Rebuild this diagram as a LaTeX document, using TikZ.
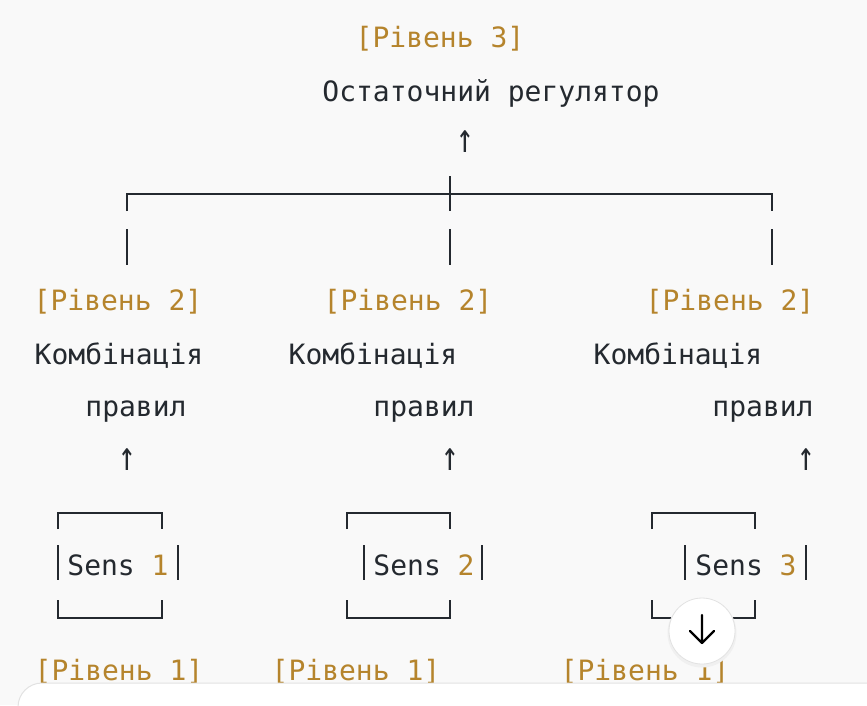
\documentclass[tikz,border=0pt]{standalone}
\usepackage{fontspec}
\usepackage{graphicx}
\newfontfamily\codefont{DejaVu Sans Mono}
\definecolor{codebg}{HTML}{F9F9F9}
\definecolor{codetext}{HTML}{24292F}
\definecolor{lvl}{HTML}{B5842C}
\definecolor{rim}{HTML}{E2E2E2}
\newcommand{\uparr}{\scalebox{1.05}[1.45]{↑}}

\begin{document}
\begin{tikzpicture}[x=1pt,y=-1pt,
    txt/.style={anchor=base, inner sep=0pt, text=codetext,
      font={\codefont\fontsize{28}{34}\selectfont}},
    lev/.style={txt, text=lvl},
    box/.style={draw=codetext, line width=1.8pt}]

      \fill[codebg] (0,0) rectangle (867,705);
      \useasboundingbox (0,0) rectangle (867,705);

      % level 3
      \begin{scope}
        \node[lev] (l3)   at (440,47)  {[Рівень 3]};
        \node[txt] (reg)  at (491,101) {Остаточний регулятор};
        \node[txt] (up3)  at (465,152) {\uparr};
      \end{scope}

      % tree
      \coordinate (ta) at (127,211);
      \coordinate (tb) at (772,194);
      \coordinate (tc) at (772,211);
      \coordinate (xa) at (450,176);
      \coordinate (xb) at (450,211);
      \draw[box] (ta) |- (tb) -- (tc);
      \draw[box] (xa) -- (xb);
      \draw[box] (127,229) -- (127,265);
      \draw[box] (450,229) -- (450,265);
      \draw[box] (772,229) -- (772,265);

      % level 2
      \begin{scope}
        \node[lev] (l2a) at (118,310) {[Рівень 2]};
        \node[lev] (l2b) at (408,310) {[Рівень 2]};
        \node[lev] (l2c) at (730,310) {[Рівень 2]};
        \node[txt] (ka)  at (119,364) {Комбінація};
        \node[txt] (kb)  at (373,364) {Комбінація};
        \node[txt] (kc)  at (678,364) {Комбінація};
        \node[txt] (pa)  at (136,416) {правил};
        \node[txt] (pb)  at (424,416) {правил};
        \node[txt] (pc)  at (763,416) {правил};
        \node[txt] (upa) at (127,470) {\uparr};
        \node[txt] (upb) at (450,470) {\uparr};
        \node[txt] (upc) at (806,470) {\uparr};
      \end{scope}

      % sensor boxes
      \draw[box] (58,529) |- (162,513) -- (162,529);
      \draw[box] (58,600) |- (162,618) -- (162,600);
      \draw[box] (58,545) -- (58,580);
      \draw[box] (178,545) -- (178,580);
      \node[txt] (sa) at (118,575) {Sens \textcolor{lvl}{1}};

      \draw[box] (347,529) |- (450,513) -- (450,529);
      \draw[box] (347,600) |- (450,618) -- (450,600);
      \draw[box] (364,545) -- (364,580);
      \draw[box] (482,545) -- (482,580);
      \node[txt] (sb) at (424,575) {Sens \textcolor{lvl}{2}};

      \draw[box] (652,529) |- (755,513) -- (755,529);
      \draw[box] (652,600) |- (755,618) -- (755,600);
      \draw[box] (685,545) -- (685,580);
      \draw[box] (806,545) -- (806,580);
      \node[txt] (sc) at (746,575) {Sens \textcolor{lvl}{3}};

      % level 1
      \begin{scope}
        \node[lev] (l1a) at (119,680) {[Рівень 1]};
        \node[lev] (l1b) at (356,680) {[Рівень 1]};
        \node[lev] (l1c) at (645,680) {[Рівень 1]};
      \end{scope}

      % scroll button and input panel
      \fill[black!6] (702,633) circle (34.5);
      \filldraw[fill=white, draw=rim, line width=0.8pt] (702,631) circle (33);
      \draw[line width=2.4pt, line cap=round, line join=round]
        (702,615) -- (702,643) (690,631) -- (702,643) -- (714,631);
      \fill[white, rounded corners=24] (18,730) -- (18,683) -- (890,683) -- (890,730) -- cycle;
      \draw[rim, line width=1pt, rounded corners=24] (18,730) -- (18,683) -- (890,683);

\end{tikzpicture}
\end{document}
